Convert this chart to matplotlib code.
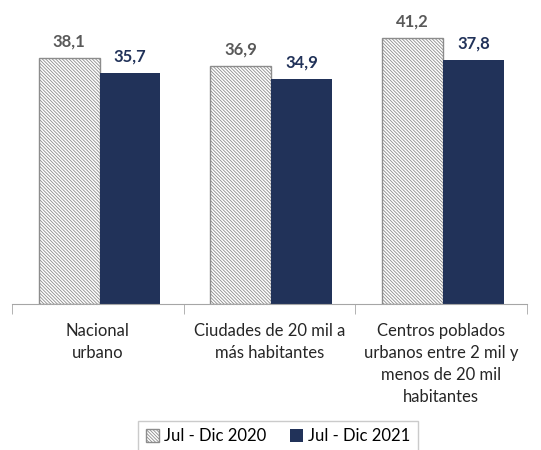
import matplotlib.pyplot as plt
import numpy as np

categories = ["Nacional\nurbano", "Ciudades de 20 mil a\nmás habitantes",
              "Centros poblados\nurbanos entre 2 mil y\nmenos de 20 mil\nhabitantes"]
series_names = ["Jul - Dic 2020", "Jul - Dic 2021"]
vals_2020 = [38.1, 36.9, 41.2]
vals_2021 = [35.7, 34.9, 37.8]

navy = "#213259"
gray_txt = "#595959"

plt.rcParams['font.family'] = ['Lato', 'DejaVu Sans']
plt.rcParams['hatch.color'] = "#7f7f7f"
plt.rcParams['hatch.linewidth'] = 0.6

fig = plt.figure(figsize=(5.41, 4.5), dpi=100)
ax = fig.add_axes([12/541, 1 - 304/450, 515/541, 290.7/450])

x = np.arange(len(categories))
w = 0.355
b1 = ax.bar(x - w/2 + 0.01, vals_2020, w, facecolor="white", edgecolor="#8c8c8c",
            hatch="\\" * 10, linewidth=1, label=series_names[0])
b2 = ax.bar(x + w/2 + 0.01, vals_2021, w, color=navy, label=series_names[1])

for xi, v in zip(x - w/2 + 0.01, vals_2020):
    ax.text(xi, v + 1.3, f"{v:.1f}".replace(".", ","), ha="center", va="bottom",
            fontsize=12, fontweight="bold", color=gray_txt)
for xi, v in zip(x + w/2 + 0.01, vals_2021):
    ax.text(xi, v + 1.3, f"{v:.1f}".replace(".", ","), ha="center", va="bottom",
            fontsize=12, fontweight="bold", color=navy)

ax.set_xlim(-0.5, 2.5)
ax.set_ylim(0, 45)
ax.set_yticks([])
for s in ["top", "right", "left"]:
    ax.spines[s].set_visible(False)
ax.spines["bottom"].set_color("#a6a6a6")
ax.set_xticks(x)
ax.set_xticklabels(categories, fontsize=12, color="#262626", linespacing=1.45)
ax.tick_params(axis="x", which="major", length=0, pad=14)
ax.set_xticks([-0.5, 0.5, 1.5, 2.5], minor=True)
ax.tick_params(axis="x", which="minor", length=7, color="#a6a6a6", direction="out")

leg = fig.legend(handles=[b1, b2], loc="center", bbox_to_anchor=(278/541, 1 - 436/450),
                 ncol=2, fontsize=12, frameon=True, fancybox=False,
                 handlelength=0.8, handleheight=0.8, handletextpad=0.3,
                 columnspacing=1.4, borderpad=0.45)
leg.get_frame().set_edgecolor("#bfbfbf")
leg.get_frame().set_linewidth(1)

fig.savefig("out.png", dpi=100)
